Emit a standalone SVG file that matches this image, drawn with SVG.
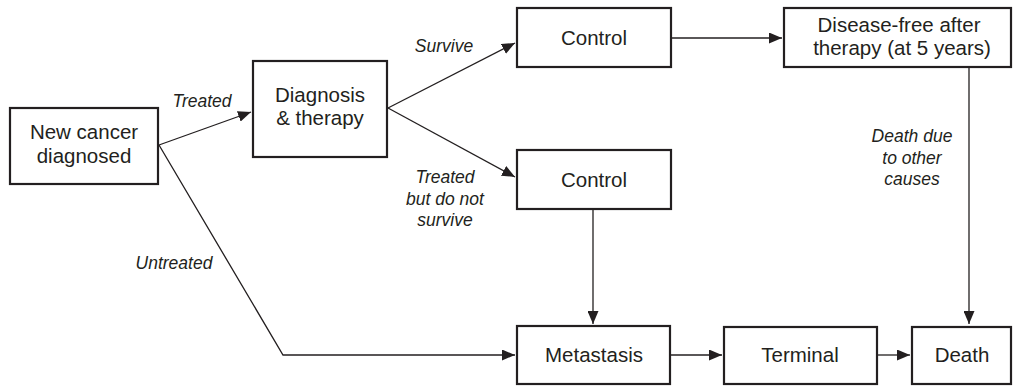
<svg xmlns="http://www.w3.org/2000/svg" width="1014" height="386" viewBox="0 0 1014 386">
<style>
.box{fill:#fff;stroke:#231f20;stroke-width:2.2}
.t{font-family:"Liberation Sans",Arial,sans-serif;font-size:20.5px;fill:#231f20;text-anchor:middle}
.l{font-family:"Liberation Sans",Arial,sans-serif;font-size:17.5px;font-style:italic;fill:#231f20;text-anchor:middle}
.c{fill:none;stroke:#231f20;stroke-width:1.3}
</style>
<defs>
<marker id="ah" markerUnits="userSpaceOnUse" markerWidth="13" markerHeight="11" refX="13" refY="5.5" orient="auto" viewBox="0 0 13 11">
<path d="M0,0 L13,5.5 L0,11 z" fill="#231f20"/>
</marker>
</defs>
<g id="connectors">
<line class="c" x1="159" y1="145" x2="251" y2="112" marker-end="url(#ah)"/>
<line class="c" x1="388" y1="108" x2="515" y2="43" marker-end="url(#ah)"/>
<line class="c" x1="388" y1="108" x2="515" y2="177" marker-end="url(#ah)"/>
<line class="c" x1="672" y1="38" x2="782" y2="38" marker-end="url(#ah)"/>
<line class="c" x1="969" y1="68" x2="969" y2="324" marker-end="url(#ah)"/>
<line class="c" x1="593" y1="210" x2="593" y2="324" marker-end="url(#ah)"/>
<polyline class="c" points="159,145 283,355 515,355" marker-end="url(#ah)"/>
<line class="c" x1="671" y1="355" x2="722" y2="355" marker-end="url(#ah)"/>
<line class="c" x1="878" y1="355" x2="910" y2="355" marker-end="url(#ah)"/>
<text class="l" x="202" y="107">Treated</text>
<text class="l" x="444" y="52">Survive</text>
<text class="l" x="445" y="183">Treated</text>
<text class="l" x="445" y="205">but do not</text>
<text class="l" x="445" y="226">survive</text>
<text class="l" x="174" y="269">Untreated</text>
<text class="l" x="912" y="142">Death due</text>
<text class="l" x="912" y="164">to other</text>
<text class="l" x="912" y="185">causes</text>
</g>
<g id="new-cancer">
<rect class="box" x="10" y="108" width="148" height="76"/>
<text class="t" x="84" y="139">New cancer</text>
<text class="t" x="84" y="163">diagnosed</text>
</g>
<g id="diagnosis">
<rect class="box" x="253" y="61" width="134" height="96"/>
<text class="t" x="320" y="102">Diagnosis</text>
<text class="t" x="320" y="125">&amp; therapy</text>
</g>
<g id="control-1">
<rect class="box" x="517" y="8" width="154" height="59"/>
<text class="t" x="594" y="45">Control</text>
</g>
<g id="disease-free">
<rect class="box" x="784" y="8" width="227" height="59"/>
<text class="t" x="899" y="32">Disease-free after</text>
<text class="t" x="902" y="55">therapy (at 5 years)</text>
</g>
<g id="control-2">
<rect class="box" x="517" y="150" width="154" height="59"/>
<text class="t" x="594" y="187">Control</text>
</g>
<g id="metastasis">
<rect class="box" x="517" y="326" width="153" height="58"/>
<text class="t" x="594" y="362">Metastasis</text>
</g>
<g id="terminal">
<rect class="box" x="724" y="327" width="153" height="57"/>
<text class="t" x="800" y="362">Terminal</text>
</g>
<g id="death">
<rect class="box" x="912" y="327" width="99" height="57"/>
<text class="t" x="962" y="362">Death</text>
</g>
</svg>
